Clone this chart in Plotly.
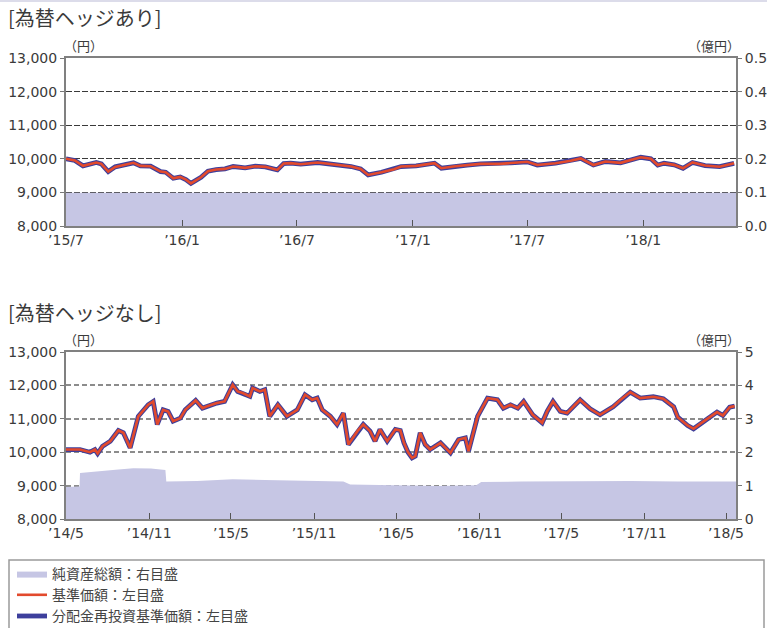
import plotly.graph_objects as go

# ---------------- data ----------------
# 為替ヘッジあり
hedged_dates = ["2015-07-01", "2015-07-15", "2015-07-28", "2015-08-18", "2015-08-26", "2015-09-06",
                "2015-09-17", "2015-10-03", "2015-10-16", "2015-10-27", "2015-11-12", "2015-11-28",
                "2015-12-06", "2015-12-18", "2015-12-29", "2016-01-07", "2016-01-15", "2016-01-31",
                "2016-02-11", "2016-02-24", "2016-03-09", "2016-03-22", "2016-04-10", "2016-04-26",
                "2016-05-12", "2016-05-31", "2016-06-10", "2016-06-21", "2016-07-07", "2016-08-03",
                "2016-08-24", "2016-09-09", "2016-09-25", "2016-10-10", "2016-10-22", "2016-11-12",
                "2016-12-02", "2016-12-13", "2017-01-06", "2017-02-04", "2017-02-15", "2017-03-09",
                "2017-03-28", "2017-04-18", "2017-05-19", "2017-06-05", "2017-07-01", "2017-07-17",
                "2017-08-15", "2017-09-08", "2017-09-24", "2017-10-14", "2017-11-02", "2017-11-26",
                "2017-12-28", "2018-01-13", "2018-01-24", "2018-02-03", "2018-02-19", "2018-03-05",
                "2018-03-20", "2018-04-09", "2018-05-02", "2018-05-25"]
hedged_price = [10000, 9950, 9790, 9890, 9850, 9620,
                9760, 9820, 9880, 9790, 9780, 9620,
                9600, 9420, 9460, 9380, 9270, 9450,
                9630, 9680, 9700, 9770, 9730, 9780,
                9760, 9670, 9860, 9870, 9840, 9890,
                9850, 9800, 9770, 9700, 9520, 9600,
                9690, 9770, 9790, 9870, 9720, 9780,
                9815, 9850, 9850, 9880, 9910, 9815,
                9870, 9940, 10010, 9815, 9920, 9880,
                10045, 10000, 9815, 9866, 9820, 9717,
                9890, 9800, 9765, 9866]
hedged_reinvest = list(hedged_price)
hedged_nav_dates = ["2015-07-01", "2016-01-01", "2016-07-01", "2017-01-01", "2017-07-01",
                    "2018-01-01", "2018-05-28"]
hedged_nav = [0.099, 0.099, 0.099, 0.099, 0.099, 0.099, 0.099]

# 為替ヘッジなし
unhedged_dates = ["2014-05-01", "2014-06-01", "2014-06-23", "2014-07-04", "2014-07-10", "2014-07-21",
                  "2014-08-07", "2014-08-25", "2014-09-05", "2014-09-20", "2014-10-08", "2014-10-30",
                  "2014-11-10", "2014-11-19", "2014-12-02", "2014-12-13", "2014-12-24", "2015-01-09",
                  "2015-01-20", "2015-02-12", "2015-02-27", "2015-03-08", "2015-03-31", "2015-04-17",
                  "2015-05-05", "2015-05-16", "2015-05-27", "2015-06-12", "2015-06-18", "2015-07-04",
                  "2015-07-15", "2015-07-26", "2015-08-13", "2015-09-02", "2015-09-25", "2015-10-12",
                  "2015-10-28", "2015-11-08", "2015-11-19", "2015-12-07", "2015-12-22", "2016-01-05",
                  "2016-01-16", "2016-02-05", "2016-02-18", "2016-03-04", "2016-03-15", "2016-03-26",
                  "2016-04-11", "2016-04-29", "2016-05-10", "2016-05-18", "2016-05-27", "2016-06-05",
                  "2016-06-12", "2016-06-23", "2016-07-04", "2016-07-15", "2016-08-07", "2016-08-29",
                  "2016-09-16", "2016-10-01", "2016-10-08", "2016-10-28", "2016-11-19", "2016-12-11",
                  "2016-12-24", "2017-01-09", "2017-01-25", "2017-02-07", "2017-02-27", "2017-03-20",
                  "2017-03-31", "2017-04-13", "2017-04-29", "2017-05-14", "2017-06-01", "2017-06-12",
                  "2017-07-04", "2017-07-26", "2017-08-24", "2017-09-09", "2017-10-01", "2017-10-23",
                  "2017-11-21", "2017-12-13", "2018-01-05", "2018-01-14", "2018-02-05", "2018-02-18",
                  "2018-03-10", "2018-04-11", "2018-04-24", "2018-05-09", "2018-05-20"]
unhedged_price = [10080, 10080, 10000, 10080, 9960, 10180,
                  10330, 10650, 10580, 10130, 11075, 11420,
                  11520, 10830, 11270, 11220, 10930, 11020,
                  11270, 11550, 11320, 11370, 11470, 11520,
                  12020, 11820, 11770, 11670, 11920, 11820,
                  11870, 11075, 11420, 11075, 11270, 11720,
                  11570, 11620, 11270, 11075, 10830, 11170,
                  10230, 10630, 10830, 10630, 10330, 10680,
                  10330, 10680, 10650, 10280, 10000, 9830,
                  9880, 10580, 10230, 10080, 10280, 9980,
                  10380, 10430, 10030, 11075, 11620, 11570,
                  11320, 11420, 11320, 11520, 11120, 10880,
                  11220, 11520, 11220, 11170, 11420, 11570,
                  11300, 11120, 11360, 11560, 11800, 11620,
                  11660, 11600, 11360, 11050, 10800, 10700,
                  10900, 11200, 11100, 11350, 11380]
unhedged_reinvest = list(unhedged_price)
unhedged_nav_dates = ["2014-05-01", "2014-05-31", "2014-06-01", "2014-07-15", "2014-08-25", "2014-09-27",
                      "2014-11-05", "2014-12-07", "2014-12-09", "2015-02-15", "2015-05-05", "2015-07-15",
                      "2015-10-01", "2016-01-05", "2016-01-20", "2016-05-10", "2016-08-01", "2016-10-25",
                      "2016-11-05", "2017-02-01", "2017-06-01", "2017-10-01", "2018-01-15", "2018-05-23"]
unhedged_nav = [0.96, 0.97, 1.38, 1.42, 1.48, 1.52,
                1.51, 1.47, 1.12, 1.14, 1.19, 1.17,
                1.14, 1.12, 1.03, 1.00, 0.99, 1.01,
                1.11, 1.12, 1.13, 1.14, 1.12, 1.12]

hedged_tick_dates = ["2015-07-01", "2016-01-01", "2016-07-01", "2017-01-01", "2017-07-01", "2018-01-01"]
hedged_tick_text = ["’15/7", "’16/1", "’16/7", "’17/1", "’17/7", "’18/1"]
unhedged_tick_dates = ["2014-05-01", "2014-11-01", "2015-05-01", "2015-11-01", "2016-05-01",
                       "2016-11-01", "2017-05-01", "2017-11-01", "2018-05-01"]
unhedged_tick_text = ["’14/5", "’14/11", "’15/5", "’15/11", "’16/5", "’16/11", "’17/5", "’17/11", "’18/5"]
yen_ticks = [8000, 9000, 10000, 11000, 12000, 13000]
hedged_nav_ticks = [0.0, 0.1, 0.2, 0.3, 0.4, 0.5]
unhedged_nav_ticks = [0, 1, 2, 3, 4, 5]

legend_names = ["純資産総額：右目盛", "基準価額：左目盛", "分配金再投資基準価額：左目盛"]

# ---------------- styling ----------------
W, H = 767, 628
ML, MR, MT, MB = 66, 31, 58, 109
PW, PH = W - ML - MR, H - MT - MB
FONT = "Noto Sans CJK JP"
NUMFONT = "DejaVu Sans"
TXT = "#3a3a3a"
AREA = "#c6c6e4"
ORANGE = "#e24a2d"
NAVY = "#3d3f9c"


def px_x(p):
    return (p - ML) / PW


def px_y(p):
    return (H - MB - p) / PH


fig = go.Figure()

panels = [
    dict(x="x", ynav="y", yprice="y2", dates=hedged_dates, price=hedged_price, reinv=hedged_reinvest,
         nd=hedged_nav_dates, nav=hedged_nav, legend=False),
    dict(x="x2", ynav="y3", yprice="y4", dates=unhedged_dates, price=unhedged_price, reinv=unhedged_reinvest,
         nd=unhedged_nav_dates, nav=unhedged_nav, legend=True),
]
for p in panels:
    fig.add_trace(go.Scatter(x=p["nd"], y=p["nav"], xaxis=p["x"], yaxis=p["ynav"], mode="lines",
                             fill="tozeroy", fillcolor=AREA, line=dict(width=0, color=AREA),
                             name=legend_names[0], showlegend=p["legend"], legendrank=1))
    fig.add_trace(go.Scatter(x=p["dates"], y=p["reinv"], xaxis=p["x"], yaxis=p["yprice"], mode="lines",
                             line=dict(width=4.8, color=NAVY), name=legend_names[2],
                             showlegend=p["legend"], legendrank=3))
    fig.add_trace(go.Scatter(x=p["dates"], y=p["price"], xaxis=p["x"], yaxis=p["yprice"], mode="lines",
                             line=dict(width=2.6, color=ORANGE), name=legend_names[1],
                             showlegend=p["legend"], legendrank=2))

top_dom = [px_y(226), px_y(58)]
bot_dom = [px_y(519), px_y(352)]

axis_common = dict(showline=True, linecolor="#808080", linewidth=2, automargin=False,
                   tickfont=dict(family=NUMFONT, size=14, color=TXT))

fig.update_layout(
    width=W, height=H,
    margin=dict(l=ML, r=MR, t=MT, b=MB, autoexpand=False),
    paper_bgcolor="white", plot_bgcolor="white",
    font=dict(family=FONT, color=TXT),
    xaxis=dict(domain=[0, 1], anchor="y", type="date", range=["2015-07-01", "2018-05-28"],
               tickvals=hedged_tick_dates, ticktext=hedged_tick_text, ticks="inside", ticklen=6,
               tickcolor="#555", mirror=True, showgrid=False, **axis_common),
    yaxis=dict(domain=top_dom, anchor="x", side="right", range=[0, 0.5], tickvals=hedged_nav_ticks,
               tickformat=".1f", ticks="outside", ticklen=4, tickcolor="#777", showgrid=False,
               zeroline=False, **axis_common),
    yaxis2=dict(overlaying="y", anchor="x", side="left", range=[8000, 13000], tickvals=yen_ticks,
                tickformat=",d", ticks="outside", ticklen=4, tickcolor="#777", showgrid=True,
                gridcolor="#3a3a3a", gridwidth=1, griddash="6px,2px", zeroline=False, **axis_common),
    xaxis2=dict(domain=[0, 1], anchor="y3", type="date", range=["2014-05-01", "2018-05-23"],
                tickvals=unhedged_tick_dates, ticktext=unhedged_tick_text, ticks="inside", ticklen=6,
                tickcolor="#555", mirror=True, showgrid=False, **axis_common),
    yaxis3=dict(domain=bot_dom, anchor="x2", side="right", range=[0, 5], tickvals=unhedged_nav_ticks,
                tickformat="d", ticks="outside", ticklen=4, tickcolor="#777", showgrid=False,
                zeroline=False, **axis_common),
    yaxis4=dict(overlaying="y3", anchor="x2", side="left", range=[8000, 13000], tickvals=yen_ticks,
                tickformat=",d", ticks="outside", ticklen=4, tickcolor="#777", showgrid=True,
                gridcolor="#8c8c8c", gridwidth=1.5, griddash="5px,3px", zeroline=False, **axis_common),
    showlegend=True,
    legend=dict(x=px_x(12), y=px_y(558), xanchor="left", yanchor="top", orientation="v",
                font=dict(family=FONT, size=14, color="#444"), bgcolor="rgba(0,0,0,0)",
                itemwidth=30, tracegroupgap=0, traceorder="normal"),
)

ann = dict(xref="paper", yref="paper", showarrow=False)
fig.add_annotation(x=px_x(6), y=px_y(18), text="[為替ヘッジあり]", xanchor="left", yanchor="middle",
                   font=dict(family=FONT, size=20, color=TXT), **ann)
fig.add_annotation(x=px_x(6), y=px_y(312), text="[為替ヘッジなし]", xanchor="left", yanchor="middle",
                   font=dict(family=FONT, size=20, color=TXT), **ann)
for yy in (45, 339):
    fig.add_annotation(x=px_x(62), y=px_y(yy), text="（円）", xanchor="left", yanchor="middle",
                       font=dict(family=FONT, size=13, color=TXT), **ann)
    fig.add_annotation(x=px_x(742), y=px_y(yy), text="（億円）", xanchor="right", yanchor="middle",
                       font=dict(family=FONT, size=13, color=TXT), **ann)

# legend frame and top border
fig.add_shape(type="rect", xref="paper", yref="paper", x0=px_x(9), x1=px_x(764), y0=px_y(640), y1=px_y(560),
              line=dict(color="#9a9a9a", width=1.5), fillcolor="rgba(0,0,0,0)", layer="below")
fig.add_shape(type="line", xref="paper", yref="paper", x0=px_x(0), x1=px_x(767), y0=px_y(1), y1=px_y(1),
              line=dict(color="#dcdcea", width=2))

fig.write_html("out.html", config={"displayModeBar": False},
               post_script="document.body.style.margin='0';document.body.style.overflow='hidden';")
